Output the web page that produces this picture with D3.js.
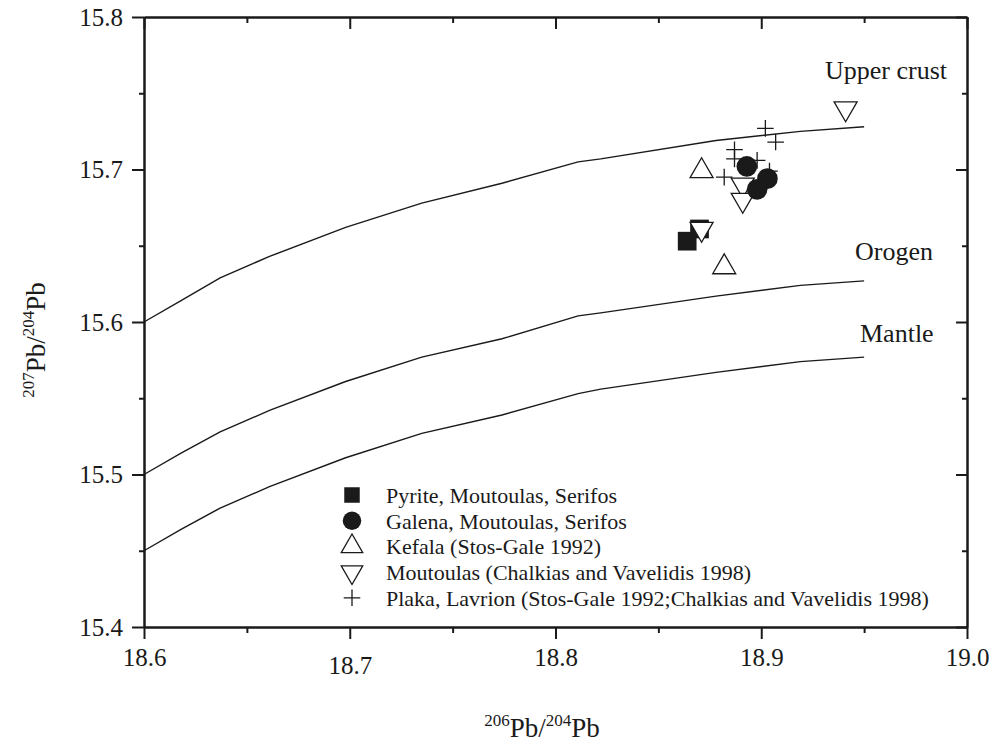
<!DOCTYPE html>
<html>
<head>
<meta charset="utf-8">
<script src="https://cdn.jsdelivr.net/npm/d3@7"></script>
<style>
body{margin:0;background:#fff}
svg{display:block}
text{font-family:"Liberation Serif","Times New Roman",serif;fill:#1a1a1a}
</style>
</head>
<body>
<svg id="chart" width="998" height="744"></svg>
<script>
// model growth curves (206Pb/204Pb vs 207Pb/204Pb)
var curveX=[18.600,18.618,18.637,18.661,18.698,18.735,18.774,18.811,18.822,18.878,18.919,18.950];
var upperCrust=[15.600,15.614,15.629,15.643,15.662,15.678,15.691,15.705,15.707,15.719,15.725,15.728];
var orogen=[15.500,15.514,15.528,15.542,15.561,15.577,15.589,15.604,15.606,15.617,15.624,15.627];
var mantle=[15.450,15.464,15.478,15.492,15.511,15.527,15.539,15.553,15.556,15.567,15.574,15.577];

// samples
var pyriteX=[18.864,18.870], pyriteY=[15.653,15.661];
var galenaX=[18.893,18.903,18.898], galenaY=[15.702,15.694,15.687];
var kefalaX=[18.871,18.882], kefalaY=[15.699,15.636];
var moutoulasX=[18.941,18.891,18.891,18.871], moutoulasY=[15.740,15.690,15.680,15.661];
var plakaX=[18.902,18.907,18.887,18.887,18.898,18.882,18.904], plakaY=[15.727,15.718,15.713,15.707,15.706,15.695,15.699];

var xTicks=[18.6,18.7,18.8,18.9,19.0], xMinor=[18.65,18.75,18.85,18.95];
var yTicks=[15.4,15.5,15.6,15.7,15.8], yMinor=[15.45,15.55,15.65,15.75];
var legendLabels=["Pyrite, Moutoulas, Serifos","Galena, Moutoulas, Serifos","Kefala (Stos-Gale 1992)",
 "Moutoulas (Chalkias and Vavelidis 1998)","Plaka, Lavrion (Stos-Gale 1992;Chalkias and Vavelidis 1998)"];
var curveLabels=["Upper crust","Orogen","Mantle"];

var svg=d3.select("#chart");
var x=d3.scaleLinear().domain([18.6,19.0]).range([144,967]);
var y=d3.scaleLinear().domain([15.4,15.8]).range([627,17]);
var fmt=d3.format(".1f");

function axisGroup(axis,tx,ty){
 var g=svg.append("g").attr("transform","translate("+tx+","+ty+")").call(axis);
 g.select(".domain").attr("stroke","#1a1a1a").attr("stroke-width",2);
 g.selectAll(".tick line").attr("stroke","#1a1a1a").attr("stroke-width",2);
 return g;
}
// minor ticks first
axisGroup(d3.axisBottom(x).tickValues(xMinor).tickSize(6).tickSizeOuter(0).tickFormat(""),0,627);
axisGroup(d3.axisTop(x).tickValues(xMinor).tickSize(-6).tickSizeOuter(0).tickFormat(""),0,17);
axisGroup(d3.axisLeft(y).tickValues(yMinor).tickSize(5).tickSizeOuter(0).tickFormat(""),144,0);
axisGroup(d3.axisRight(y).tickValues(yMinor).tickSize(-5).tickSizeOuter(0).tickFormat(""),967,0);
// major ticks
var gb=axisGroup(d3.axisBottom(x).tickValues(xTicks).tickSize(12).tickSizeOuter(0).tickFormat(fmt),0,627);
gb.selectAll(".tick text").attr("y",39).attr("dy",0).attr("font-size",25)
 .attr("transform",function(d){return Math.abs(d-18.7)<1e-9?"translate(0,8)":null;});
axisGroup(d3.axisTop(x).tickValues(xTicks).tickSize(-12).tickSizeOuter(0).tickFormat(""),0,17);
var gl=axisGroup(d3.axisLeft(y).tickValues(yTicks).tickSize(12).tickSizeOuter(0).tickFormat(fmt),144,0);
gl.selectAll(".tick text").attr("x",-21).attr("dy","0.32em").attr("font-size",25);
axisGroup(d3.axisRight(y).tickValues(yTicks).tickSize(-11).tickSizeOuter(0).tickFormat(""),967,0);
svg.selectAll(".tick text").style("font-family","'Liberation Serif','Times New Roman',serif").attr("fill","#1a1a1a");

// curves
var line=d3.line().x(function(d){return x(d[0]);}).y(function(d){return y(d[1]);});
[upperCrust,orogen,mantle].forEach(function(ys){
 svg.append("path").datum(curveX.map(function(v,i){return [v,ys[i]];}))
  .attr("d",line).attr("fill","none").attr("stroke","#1a1a1a").attr("stroke-width",1.4);
});
var labelPos=[[825,79],[855,260],[860,342]];
curveLabels.forEach(function(t,i){
 svg.append("text").attr("x",labelPos[i][0]).attr("y",labelPos[i][1]).attr("font-size",26).text(t);
});

// markers
var plusPath="M-8.3,0H8.3M0,-8.3V8.3";
function pts(xs,ys){return xs.map(function(v,i){return [v,ys[i]];});}
function draw(data,shape){
 var g=svg.append("g");
 g.selectAll("path").data(data).enter().append("path")
  .attr("transform",function(d){return "translate("+x(d[0])+","+y(d[1])+")"+(shape.rot?" rotate(180)":"");})
  .attr("d",shape.d).attr("fill",shape.fill).attr("stroke","#1a1a1a").attr("stroke-width",shape.sw);
}
var sq={d:d3.symbol(d3.symbolSquare,350)(),fill:"#1a1a1a",sw:0};
var ci={d:d3.symbol(d3.symbolCircle,335)(),fill:"#1a1a1a",sw:0};
var up={d:d3.symbol(d3.symbolTriangle,229)(),fill:"#fff",sw:1.3};
var dn={d:d3.symbol(d3.symbolTriangle,229)(),fill:"#fff",sw:1.3,rot:true};
var pl={d:plusPath,fill:"none",sw:1.3};
draw(pts(plakaX,plakaY),pl);
draw(pts(pyriteX,pyriteY),sq);
draw(pts(moutoulasX,moutoulasY),dn);
draw(pts(galenaX,galenaY),ci);
draw(pts(kefalaX,kefalaY),up);

// legend
var legShapes=[
 {d:d3.symbol(d3.symbolSquare,240)(),fill:"#1a1a1a",sw:0},
 {d:d3.symbol(d3.symbolCircle,270)(),fill:"#1a1a1a",sw:0},
 {d:d3.symbol(d3.symbolTriangle,200)(),fill:"#fff",sw:1.3},
 {d:d3.symbol(d3.symbolTriangle,200)(),fill:"#fff",sw:1.3,rot:true},
 {d:plusPath,fill:"none",sw:1.3}];
var leg=svg.append("g").attr("transform","translate(352,495)");
legendLabels.forEach(function(t,i){
 var s=legShapes[i];
 leg.append("path").attr("d",s.d).attr("fill",s.fill).attr("stroke","#1a1a1a").attr("stroke-width",s.sw)
  .attr("transform","translate(0,"+(i*25.7)+")"+(s.rot?" rotate(180)":""));
 leg.append("text").attr("x",34).attr("y",i*25.7+8).attr("font-size",22).text(t);
});

// axis titles
var xt=svg.append("text").attr("x",542).attr("y",737).attr("text-anchor","middle").attr("font-size",27);
xt.append("tspan").attr("font-size",17).attr("dy",-11).text("206");
xt.append("tspan").attr("dy",11).text("Pb/");
xt.append("tspan").attr("font-size",17).attr("dy",-11).text("204");
xt.append("tspan").attr("dy",11).text("Pb");
var yt=svg.append("text").attr("transform","translate(45,340) rotate(-90)").attr("text-anchor","middle").attr("font-size",27);
yt.append("tspan").attr("font-size",17).attr("dy",-11).text("207");
yt.append("tspan").attr("dy",11).text("Pb/");
yt.append("tspan").attr("font-size",17).attr("dy",-11).text("204");
yt.append("tspan").attr("dy",11).text("Pb");
</script>
</body>
</html>
